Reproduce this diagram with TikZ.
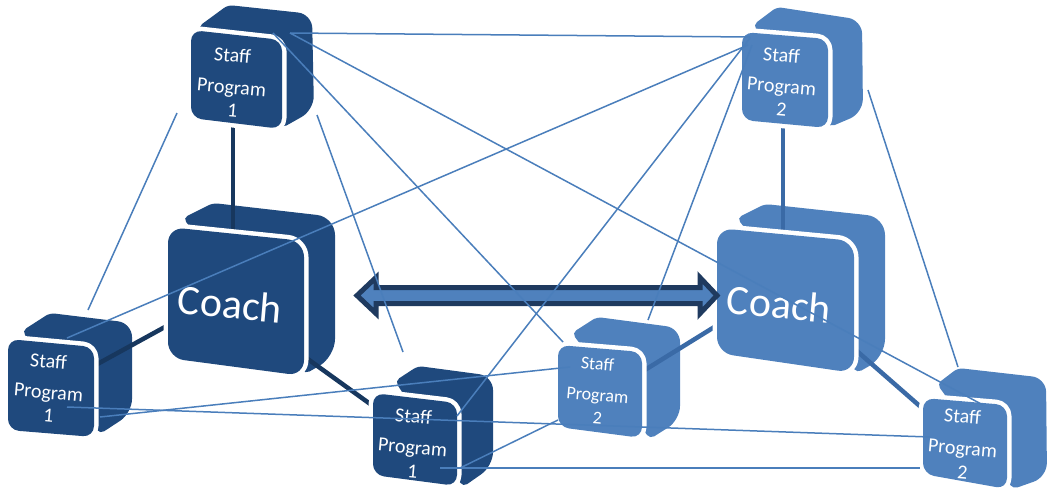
\documentclass[tikz,border=0pt]{standalone}
\usepackage{fontspec}
\setmainfont{Carlito}
\definecolor{dk}{HTML}{1F497D}
\definecolor{lt}{HTML}{4F81BD}
\definecolor{ln}{HTML}{4A7EBB}
\definecolor{tkd}{HTML}{17375E}
\definecolor{tkl}{HTML}{3A6AA6}
\definecolor{arr}{HTML}{1F3A5F}
\begin{document}
\begin{tikzpicture}[x=1pt,y=-1pt,
  cubeback/.style={fill=#1, rounded corners=5pt},
  cubegap/.style={draw=white, line width=9pt, line join=round, rounded corners=#1},
  cubeface/.style={fill=#1},
  thickd/.style={draw=tkd, line width=4.5pt},
  thickl/.style={draw=tkl, line width=4.5pt},
  thin/.style={draw=ln, line width=1.5pt},
  lbl/.style={text=white, font=\fontsize{20}{23}\selectfont, anchor=base, rotate=-5, inner sep=0pt},
  lbls/.style={text=white, font=\fontsize{18}{21}\selectfont, anchor=base, rotate=-5, inner sep=0pt},
  big/.style={text=white, font=\fontsize{42}{48}\selectfont, anchor=center, rotate=-5, inner sep=0pt}
]
\useasboundingbox (0,0) rectangle (1050,499);

% ---------- back parts of the cubes ----------
\fill[cubeback=dk] (198,27) -- (228,5) [rounded corners=14pt] -- (312,14) -- (314,110) [rounded corners=5pt] -- (282,128) -- cycle;       % A
\fill[cubeback=dk] (183,218) -- (213,203) [rounded corners=18pt] -- (335,217) -- (335,357) [rounded corners=5pt] -- (305,374) -- cycle; % B
\fill[cubeback=dk] (22,331) -- (50,313) [rounded corners=14pt] -- (132,323) -- (132,413) [rounded corners=5pt] -- (100,434) -- cycle;     % C
\fill[cubeback=dk] (395,381) -- (418,366) [rounded corners=14pt] -- (493,376) -- (493,466) [rounded corners=5pt] -- (463,487) -- cycle;  % D
\fill[cubeback=lt] (572,333) -- (597,317) [rounded corners=14pt] -- (680,328) -- (680,420) [rounded corners=5pt] -- (650,439) -- cycle;  % E
\fill[cubeback=lt] (737,218) -- (765,204) [rounded corners=18pt] -- (885,217) -- (885,357) [rounded corners=5pt] -- (857,373) -- cycle; % F
\fill[cubeback=lt] (937,384) -- (958,368) [rounded corners=14pt] -- (1046,378) -- (1047,477) [rounded corners=5pt] -- (1013,489) -- cycle; % G
\fill[cubeback=lt] (753,25) -- (777,7) [rounded corners=14pt] -- (862,20) -- (863,113) [rounded corners=5pt] -- (830,127) -- cycle;      % H

% ---------- anchor points ----------
\coordinate (A1) at (290,33);
\coordinate (A2) at (273,33);
\coordinate (A3) at (177,113);
\coordinate (A4) at (317,115);
\coordinate (A5) at (233,124);
\coordinate (B1) at (233,232);
\coordinate (B2) at (174,322);
\coordinate (B3) at (298,352);
\coordinate (C1) at (88,310);
\coordinate (C2) at (67,338);
\coordinate (C3) at (100,417);
\coordinate (C4) at (67,407);
\coordinate (C5) at (92,367);
\coordinate (D1) at (403,352);
\coordinate (D2) at (457,416);
\coordinate (D3) at (460,468);
\coordinate (D4) at (440,468);
\coordinate (D5) at (373,406);
\coordinate (E1) at (563,342);
\coordinate (E2) at (648,320);
\coordinate (E3) at (570,367);
\coordinate (E4) at (558,420);
\coordinate (E5) at (640,373);
\coordinate (F1) at (783,232);
\coordinate (F2) at (724,321);
\coordinate (F3) at (850,345);
\coordinate (G1) at (983,405);
\coordinate (G2) at (958,367);
\coordinate (G3) at (930,437);
\coordinate (G4) at (920,468);
\coordinate (G5) at (922,408);
\coordinate (H1) at (750,37);
\coordinate (H2) at (748,45);
\coordinate (H3) at (750,38);
\coordinate (H4) at (752,45);
\coordinate (H5) at (868,90);
\coordinate (H6) at (783,124);

% ---------- thick connectors ----------
\draw[thickd] (A5) -- (B1);
\draw[thickd] (B2) -- (C5);
\draw[thickd] (B3) -- (D5);
\draw[thickl] (H6) -- (F1);
\draw[thickl] (F2) -- (E5);
\draw[thickl] (F3) -- (G5);

% ---------- front faces ----------
\path[cubegap=11pt] (191,30) -- (282,40) -- (282,129) -- (191,118) -- cycle;
\fill[cubeface=dk, rounded corners=11pt] (191,30) -- (282,40) -- (282,129) -- (191,118) -- cycle;
\path[cubegap=16pt] (168,227) -- (304,241) -- (304,376) -- (168,358) -- cycle;
\fill[cubeface=dk, rounded corners=16pt] (168,227) -- (304,241) -- (304,376) -- (168,358) -- cycle;
\path[cubegap=11pt] (8,339) -- (94,347) -- (94,437) -- (8,430) -- cycle;
\fill[cubeface=dk, rounded corners=11pt] (8,339) -- (94,347) -- (94,437) -- (8,430) -- cycle;
\path[cubegap=11pt] (373,393) -- (457,403) -- (457,486) -- (373,475) -- cycle;
\fill[cubeface=dk, rounded corners=11pt] (373,393) -- (457,403) -- (457,486) -- (373,475) -- cycle;
\path[cubegap=11pt] (558,345) -- (642,352) -- (642,438) -- (558,427) -- cycle;
\fill[cubeface=lt, rounded corners=11pt] (558,345) -- (642,352) -- (642,438) -- (558,427) -- cycle;
\path[cubegap=16pt] (717,228) -- (854,241) -- (854,373) -- (717,353) -- cycle;
\fill[cubeface=lt, rounded corners=16pt] (717,228) -- (854,241) -- (854,373) -- (717,353) -- cycle;
\path[cubegap=11pt] (923,398) -- (1007,405) -- (1007,489) -- (923,474) -- cycle;
\fill[cubeface=lt, rounded corners=11pt] (923,398) -- (1007,405) -- (1007,489) -- (923,474) -- cycle;
\path[cubegap=11pt] (742,32) -- (828,39) -- (828,128) -- (742,120) -- cycle;
\fill[cubeface=lt, rounded corners=11pt] (742,32) -- (828,39) -- (828,128) -- (742,120) -- cycle;

% ---------- texts ----------
\node[lbl] (At1) at (232,62) {Staff};
\node[lbl] (At2) at (231,94) {Program};
\node[lbl] (At3) at (232,117) {1};
\node[lbl] (Ct1) at (48,368) {Staff};
\node[lbl] (Ct2) at (48,399) {Program};
\node[lbl] (Ct3) at (48,422) {1};
\node[lbl] (Dt1) at (413,423) {Staff};
\node[lbl] (Dt2) at (412,454) {Program};
\node[lbl] (Dt3) at (412,478) {1};
\node[lbls] (Et1) at (597,370) {Staff};
\node[lbls] (Et2) at (597,401) {Program};
\node[lbls] (Et3) at (597,424) {2};
\node[lbl] (Gt1) at (962,423) {Staff};
\node[lbl] (Gt2) at (962,455) {Program};
\node[lbl] (Gt3) at (962,479) {2};
\node[lbl] (Ht1) at (781,62) {Staff};
\node[lbl] (Ht2) at (781,93) {Program};
\node[lbl] (Ht3) at (781,116) {2};
\node[big] (Bt) at (230,304) {Coach};
\node[big] (Ft) at (779,304) {Coach};

% ---------- double arrow ----------
\filldraw[fill=lt, draw=arr, line width=5pt, line join=miter]
  (357,295.5) -- (376,277.5) -- (376,287.5) -- (700,287.5) -- (700,277.5) -- (717,295.5)
  -- (700,313.5) -- (700,303.5) -- (376,303.5) -- (376,313.5) -- cycle;

% ---------- thin connectors ----------
\draw[thin] (A1) -- (H1);
\draw[thin] (A1) -- (G1);
\draw[thin] (A2) -- (E1);
\draw[thin] (A3) -- (C1);
\draw[thin] (A4) -- (D1);
\draw[thin] (H2) -- (C2);
\draw[thin] (H3) -- (D2);
\draw[thin] (H4) -- (E2);
\draw[thin] (H5) -- (G2);
\draw[thin] (C3) -- (E3);
\draw[thin] (C4) -- (G3);
\draw[thin] (D3) -- (E4);
\draw[thin] (D4) -- (G4);
\end{tikzpicture}
\end{document}
